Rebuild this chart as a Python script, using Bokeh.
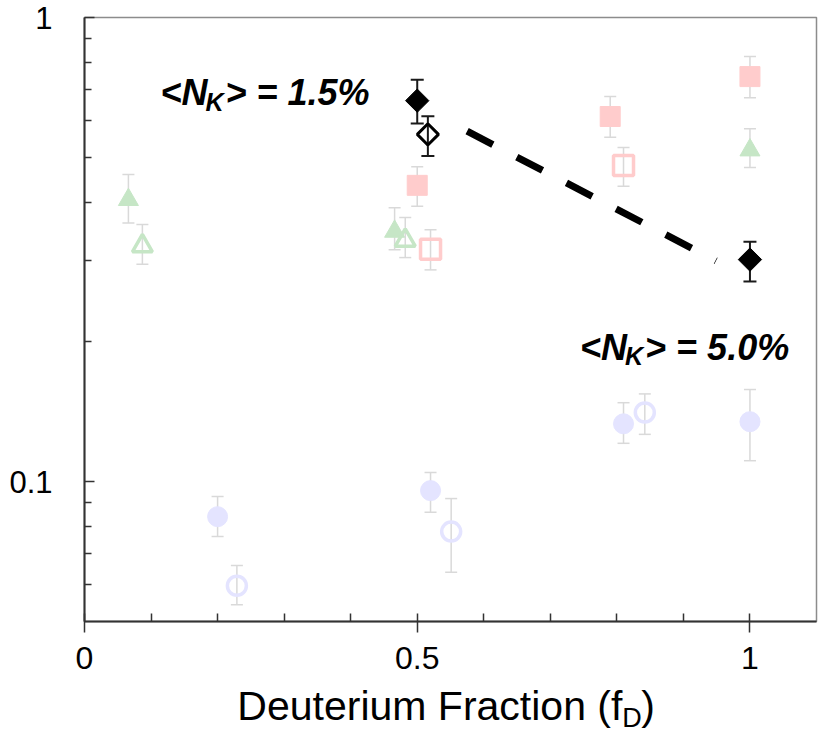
import numpy as np
from bokeh.plotting import figure
from bokeh.layouts import column
from bokeh.models import (ColumnDataSource, Whisker, TeeHead, FixedTicker, Range1d,
                          Label, CustomJSTickFormatter)
from bokeh.core.properties import value
from bokeh.embed import file_html
from bokeh.resources import INLINE

# ---- measured values (fraction vs deuterium fraction f_D) ----
# pink squares
sq_fill_x = [0.50, 0.79, 1.00]
sq_fill_y = [0.435, 0.612, 0.746]
sq_fill_lo = [0.392, 0.552, 0.672]
sq_fill_hi = [0.477, 0.676, 0.824]

sq_open_x = [0.52, 0.81]
sq_open_y = [0.317, 0.480]
sq_open_lo = [0.286, 0.433]
sq_open_hi = [0.349, 0.525]

# green triangles
tri_fill_x = [0.066, 0.466, 1.00]
tri_fill_y = [0.405, 0.346, 0.518]
tri_fill_lo = [0.361, 0.316, 0.475]
tri_fill_hi = [0.459, 0.389, 0.576]

tri_open_x = [0.087, 0.482]
tri_open_y = [0.322, 0.331]
tri_open_lo = [0.294, 0.304]
tri_open_hi = [0.358, 0.371]

# lavender circles
circ_fill_x = [0.20, 0.52, 0.81, 1.00]
circ_fill_y = [0.0841, 0.0957, 0.1333, 0.1347]
circ_fill_lo = [0.0762, 0.086, 0.121, 0.111]
circ_fill_hi = [0.093, 0.1047, 0.148, 0.158]

circ_open_x = [0.229, 0.551, 0.842]
circ_open_y = [0.0597, 0.0781, 0.141]
circ_open_lo = [0.0543, 0.0638, 0.1265]
circ_open_hi = [0.066, 0.092, 0.1546]

# black diamonds
dia_fill_x = [0.50, 1.00]
dia_fill_y = [0.662, 0.301]
dia_fill_lo = [0.591, 0.270]
dia_fill_hi = [0.734, 0.329]

dia_open_x = [0.516]
dia_open_y = [0.560]
dia_open_lo = [0.503]
dia_open_hi = [0.613]

# dashed trend between the two <N_K> regimes
trend_x = [0.575, 0.949]
trend_y = [0.569, 0.299]

x_major = [0.0, 0.5, 1.0]
x_minor = [0.1, 0.2, 0.3, 0.4, 0.6, 0.7, 0.8, 0.9]
y_major = [0.1, 1.0]
y_minor = [0.06, 0.07, 0.08, 0.09, 0.2, 0.3, 0.4, 0.5, 0.6, 0.7, 0.8, 0.9]

PINK = "#FFCCCC"
GREEN = "#C6E6C6"
LAV = "#E4E4FF"
ERR = "#D9D9D9"
INK = "#1a1a1a"
AX = "#333333"
FONT = "Liberation Sans"

W = 818
TOP_H = 684
BOTTOM_H = 51
LEFT, RIGHT = 84, 2

p = figure(width=W, height=TOP_H, y_axis_type="log",
           x_range=Range1d(0, 1.1), y_range=Range1d(0.05, 1.0),
           output_backend="svg", toolbar_location=None,
           min_border_left=LEFT, min_border_right=RIGHT,
           min_border_top=17, min_border_bottom=TOP_H - 621)
p.grid.visible = False
p.background_fill_color = "white"
p.border_fill_color = "white"
p.outline_line_color = "#8c8c8c"
p.outline_line_width = 1.5

fmt = CustomJSTickFormatter(code="return String(tick)")

xa = p.xaxis[0]
xa.ticker = FixedTicker(ticks=x_major, minor_ticks=x_minor)
xa.formatter = fmt
xa.axis_line_color = AX
xa.axis_line_width = 2
xa.major_tick_line_color = AX
xa.minor_tick_line_color = AX
xa.major_tick_line_width = 1.5
xa.minor_tick_line_width = 1.5
xa.major_tick_in = 8
xa.major_tick_out = 11
xa.minor_tick_in = 8
xa.minor_tick_out = 0
xa.major_label_text_font = FONT
xa.major_label_text_font_size = "32px"
xa.major_label_text_color = "black"
xa.major_label_standoff = 14

ya = p.yaxis[0]
ya.ticker = FixedTicker(ticks=y_major, minor_ticks=y_minor)
ya.formatter = fmt
ya.axis_line_color = AX
ya.axis_line_width = 2
ya.major_tick_line_color = AX
ya.minor_tick_line_color = AX
ya.major_tick_line_width = 1.5
ya.minor_tick_line_width = 1.5
ya.major_tick_in = 10
ya.major_tick_out = 0
ya.minor_tick_in = 7
ya.minor_tick_out = 0
ya.major_label_text_font = FONT
ya.major_label_text_font_size = "31px"
ya.major_label_text_color = "black"
ya.major_label_standoff = 32


def series(x, y, lo, hi, marker, size, color, filled, err_color, err_w=1.5,
           cap=12, line_w=3.5, angle=0.0):
    src = ColumnDataSource(dict(x=x, y=y, lo=lo, hi=hi))
    w = Whisker(base="x", upper="hi", lower="lo", source=src, dimension="height",
                line_color=err_color, line_width=err_w, level="underlay",
                upper_head=TeeHead(size=cap, line_color=err_color, line_width=err_w),
                lower_head=TeeHead(size=cap, line_color=err_color, line_width=err_w))
    p.add_layout(w)
    if filled:
        p.scatter("x", "y", source=src, marker=marker, size=size, angle=angle,
                  fill_color=color, line_color=color, line_width=1)
    else:
        p.scatter("x", "y", source=src, marker=marker, size=size, angle=angle,
                  fill_color=None, line_color=color, line_width=line_w)


series(circ_fill_x, circ_fill_y, circ_fill_lo, circ_fill_hi, "circle", 20, LAV, True, ERR)
series(circ_open_x, circ_open_y, circ_open_lo, circ_open_hi, "circle", 19, LAV, False, ERR)
series(tri_fill_x, tri_fill_y, tri_fill_lo, tri_fill_hi, "triangle", 20, GREEN, True, ERR)
series(tri_open_x, tri_open_y, tri_open_lo, tri_open_hi, "triangle", 20, GREEN, False, ERR)
series(sq_fill_x, sq_fill_y, sq_fill_lo, sq_fill_hi, "square", 20, PINK, True, ERR)
series(sq_open_x, sq_open_y, sq_open_lo, sq_open_hi, "square", 20, PINK, False, ERR)
series(dia_fill_x, dia_fill_y, dia_fill_lo, dia_fill_hi, "square", 16.5, "black", True,
       INK, err_w=2, cap=13, angle=np.pi / 4)
series(dia_open_x, dia_open_y, dia_open_lo, dia_open_hi, "square", 15, "black", False,
       INK, err_w=2, cap=13, line_w=3, angle=np.pi / 4)

p.line(trend_x, trend_y, line_color="black", line_width=7, line_dash="29 27",
       line_cap="butt")


def rich_label(x, y, parts, size, style):
    """Place a string made of pieces (text, dx, dy, scale) starting at data point (x, y)."""
    for text, dx, dy, scale in parts:
        p.add_layout(Label(x=x, y=y, x_offset=dx, y_offset=dy, text=text,
                           text_font=FONT, text_font_style=style,
                           text_font_size=f"{size * scale:.1f}px",
                           text_color="black", text_align="left",
                           text_baseline="alphabetic"))


# pieces: main text, subscript K (smaller, lowered), closing part
nk_parts = lambda tail: [("<N", 0, 14, 1.0), ("K", 45, 5, 0.7), (tail, 65, 14, 1.0)]
rich_label(0.1141, 0.642, nk_parts("> = 1.5%"), 36, "bold italic")
rich_label(0.7447, 0.1816, nk_parts("> = 5.0%"), 36, "bold italic")

# ---- x-axis title strip; its frame lines up with the plot frame above ----
t = figure(width=W, height=BOTTOM_H, x_range=Range1d(0, 1.1), y_range=Range1d(BOTTOM_H, 0),
           output_backend="svg", toolbar_location=None,
           x_axis_location=None, y_axis_location=None,
           min_border_left=LEFT, min_border_right=RIGHT,
           min_border_top=0, min_border_bottom=0)
t.grid.visible = False
t.outline_line_color = None
t.background_fill_color = "white"
t.border_fill_color = "white"

title_src = ColumnDataSource(dict(
    x=[0.2297, 0.2297, 0.2297],
    y=[21, 33, 21],
    dx=[0, 385, 404],
    text=["Deuterium Fraction (f", "D", ")"],
    size=["41px", "27px", "41px"],
))
t.text(x="x", y="y", x_offset="dx", text="text", source=title_src,
       text_font=value(FONT), text_font_size="size", text_color="black",
       text_align="left", text_baseline="alphabetic")

layout = column(p, t, spacing=0)
open("out.html", "w").write(file_html(layout, INLINE))
